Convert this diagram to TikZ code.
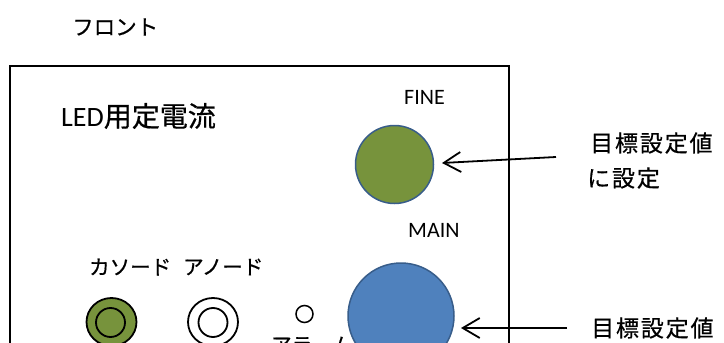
\documentclass[tikz,border=0pt]{standalone}
\usepackage{fontspec}
\newfontfamily\cjk[FakeBold=0.6]{Noto Sans CJK JP}
\newfontfamily\cjksp[LetterSpace=8,FakeBold=0.6]{Noto Sans CJK JP}
\newfontfamily\lat{Carlito}
\usetikzlibrary{arrows.meta,shapes.geometric}
\definecolor{olive}{HTML}{77933C}
\definecolor{knobblue}{HTML}{4F81BD}
\definecolor{edgeblue}{HTML}{385D8A}
\tikzset{
  lbl/.style={anchor=west,inner sep=0pt,text=black},
  knob/.style={circle,draw=edgeblue,line width=1.5pt,inner sep=0pt},
  jackout/.style={ellipse,draw=black,line width=1.8pt,inner sep=0pt},
  jackin/.style={circle,draw=black,line width=1.8pt,inner sep=0pt},
  pointer/.style={line width=1.8pt,-{Straight Barb[length=17pt,width=20pt]}},
}
\begin{document}
\begin{tikzpicture}[x=1pt,y=-1pt]
\useasboundingbox (0,0) rectangle (724,343);
\clip (0,0) rectangle (724,343);
% panel box (open at bottom, cut by frame)
\draw[line width=2pt] (10,380) -- (10,66) -- (509,66) -- (509,380);
% titles
\node[lbl] (front) at (72,27) {\fontsize{21.5}{25}\selectfont\cjk フロント};
\node[lbl] (title) at (61,116) {\fontsize{28}{32}\selectfont\lat LED\cjk 用定電流};
\node[lbl] (fine) at (404,97) {\fontsize{22}{26}\selectfont\lat FINE};
\node[lbl] (main) at (408,230.5) {\fontsize{22}{26}\selectfont\lat MAIN};
% knobs
\node[knob,fill=olive,minimum size=78pt] (fknob) at (394.5,164.5) {};
\node[knob,fill=knobblue,minimum size=106pt] (mknob) at (401,316) {};
% jacks
\node[lbl] (cath) at (89,267) {\fontsize{20.5}{24}\selectfont\cjk カソード};
\node[lbl] (anod) at (183,267) {\fontsize{20.5}{24}\selectfont\cjk アノード};
\node[jackout,fill=olive,minimum width=50pt,minimum height=48pt] (cj) at (111.5,322) {};
\node[jackin,minimum size=29pt] (cji) at (110.5,322.5) {};
\node[jackout,fill=white,minimum width=50pt,minimum height=48pt] (aj) at (213,322) {};
\node[jackin,minimum size=29pt] (aji) at (213,322.5) {};
\node[circle,draw=black,line width=1.5pt,fill=white,minimum size=17pt,inner sep=0pt] (alarm) at (304.5,314) {};
\node[lbl] (alarmlbl) at (271,345) {\fontsize{20.5}{24}\selectfont\cjk アラーム};
% annotations
\node[lbl] (t1a) at (590,143) {\fontsize{23}{27}\selectfont\cjksp 目標設定値};
\node[lbl] (t1b) at (587,178) {\fontsize{23}{27}\selectfont\cjksp に設定};
\node[lbl] (t2) at (591,328) {\fontsize{23}{27}\selectfont\cjksp 目標設定値};
\coordinate (a1s) at (556,157);
\coordinate (a1e) at (442,163);
\coordinate (a2s) at (567,328);
\coordinate (a2e) at (461,328);
\draw[pointer] (a1s) -- (a1e);
\draw[pointer] (a2s) -- (a2e);
\end{tikzpicture}
\end{document}
